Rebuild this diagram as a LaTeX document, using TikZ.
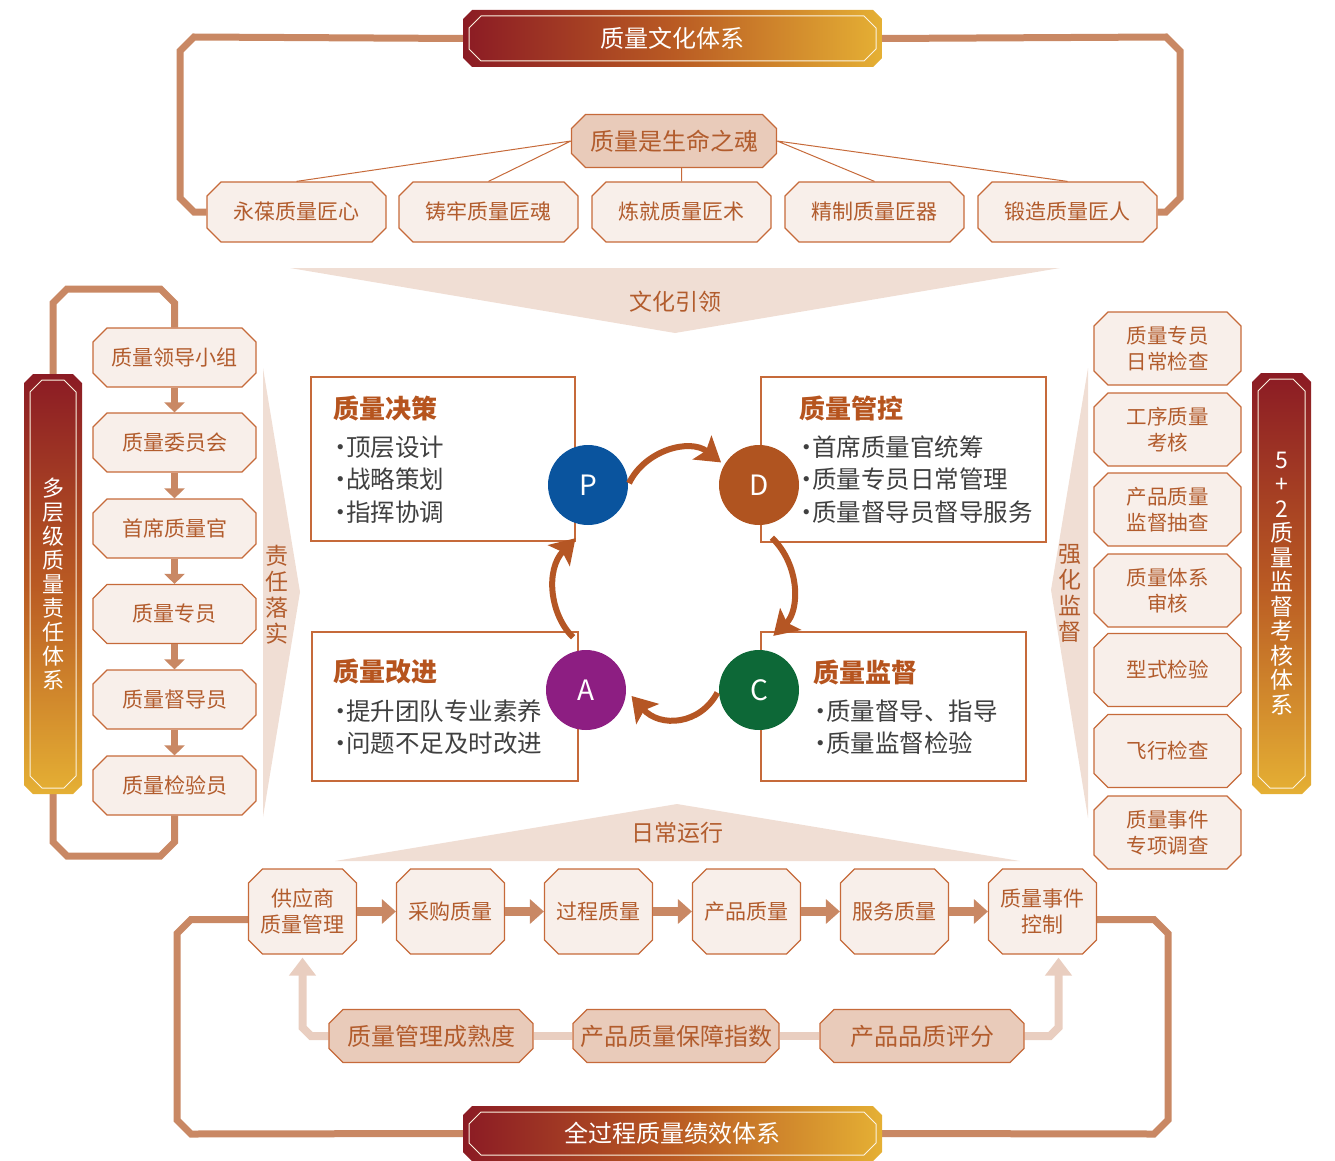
\documentclass[tikz,border=0pt]{standalone}
\usepackage{fontspec}
\setmainfont{Noto Sans CJK SC}
\usetikzlibrary{shapes.misc,arrows.meta,positioning,backgrounds}
\definecolor{loopc}{RGB}{201,136,100}
\definecolor{edgec}{RGB}{198,106,58}
\definecolor{boxc}{RGB}{248,239,234}
\definecolor{deepc}{RGB}{233,203,186}
\definecolor{wedgec}{RGB}{240,222,212}
\definecolor{palec}{RGB}{233,206,192}
\definecolor{txtc}{RGB}{178,92,45}
\definecolor{headc}{RGB}{182,84,30}
\definecolor{grayc}{RGB}{64,64,64}
\definecolor{redc}{RGB}{139,27,36}
\definecolor{midc}{RGB}{185,90,35}
\definecolor{goldc}{RGB}{229,176,52}
\definecolor{pc}{RGB}{10,84,158}
\definecolor{dc}{RGB}{176,84,32}
\definecolor{ac}{RGB}{141,30,130}
\definecolor{cc}{RGB}{13,104,55}
\definecolor{swc}{RGB}{181,86,36}
\newcommand{\fs}[2]{\fontsize{#1}{#2}\selectfont}
\newcommand{\bul}{\makebox[0.45em][c]{·}}
\newcommand{\cutrect}[5]{(#1+#5,#2) -- (#3-#5,#2) -- (#3,#2+#5) -- (#3,#4-#5) -- (#3-#5,#4) -- (#1+#5,#4) -- (#1,#4-#5) -- (#1,#2+#5) -- cycle}
\begin{document}
\begin{tikzpicture}
[x=1pt, y=-1pt,
 box/.style={chamfered rectangle, chamfered rectangle xsep=7pt, chamfered rectangle ysep=7pt,
   draw=edgec, line width=1.2pt, fill=boxc, inner sep=0pt, align=center, text=txtc, font=\fs{21}{26}},
 deepbox/.style={box, fill=deepc, font=\fs{24}{28}},
 card/.style={chamfered rectangle, chamfered rectangle xsep=6pt, chamfered rectangle ysep=6pt,
   draw=edgec, line width=1.2pt, fill=white, inner sep=0pt},
 hshade/.style={left color=redc, right color=goldc, middle color=midc},
 vshade/.style={top color=redc, bottom color=goldc, middle color=midc},
 slot/.style={rectangle, inner sep=0pt},
 rim/.style={chamfered rectangle, chamfered rectangle xsep=6pt, chamfered rectangle ysep=6pt,
   draw=white!85!goldc, line width=1pt, inner sep=0pt, text=white, align=center},
 loopline/.style={draw=loopc, line width=7pt},
 drop/.style={draw=loopc, line width=7pt, -{Triangle[width=20pt,length=10pt]}},
 push/.style={draw=loopc, line width=9pt, -{Triangle[width=24pt,length=14pt]}},
 paleline/.style={draw=palec, line width=8pt},
 paleup/.style={paleline, -{Triangle[width=26pt,length=18pt]}, shorten >=3pt},
 word/.style={text=txtc, inner sep=0pt, align=center},
 head/.style={text=headc, inner sep=0pt, font=\fs{26}{26}\bfseries},
 items/.style={text=grayc, inner sep=0pt, align=left, font=\fs{24.5}{32.5}},
 phase/.style={circle, minimum size=80pt, inner sep=0pt, text=white, font=\fs{28}{28}},
 swoosh/.style={draw=swc, line width=6pt, -{Stealth[width=30pt,length=24pt,inset=5pt]}}]
\useasboundingbox (0,0) rectangle (1335,1161);

\shade[hshade] \cutrect{463}{10}{882}{67}{9};
\node[slot, minimum width=419pt, minimum height=57pt] (culture) at (672.5,38.5) {};
\node[rim, minimum width=407pt, minimum height=45pt, font=\fs{24}{24}] (culturetxt) at (culture) {质量文化体系};
\node[deepbox, minimum width=205pt, minimum height=53pt] (soul) at (674,141) {质量是生命之魂};
\node[box, minimum width=179pt, minimum height=60pt] (craft1) at (296.5,212) {永葆质量匠心};
\node[box, minimum width=179pt, minimum height=60pt] (craft2) at (488.5,212) {铸牢质量匠魂};
\node[box, minimum width=179pt, minimum height=60pt] (craft3) at (681.5,212) {炼就质量匠术};
\node[box, minimum width=179pt, minimum height=60pt] (craft4) at (874.5,212) {精制质量匠器};
\node[box, minimum width=179pt, minimum height=60pt] (craft5) at (1067.5,212) {锻造质量匠人};
\draw[edgec, line width=1pt] (soul.west) -- (craft1.north) (soul.west) -- (craft2.north)
  (craft3.north) -- (craft3.north |- soul.south) (soul.east) -- (craft4.north) (soul.east) -- (craft5.north);

\fill[wedgec] (290,268) -- (1060,268) -- (675,333) -- cycle;
\node[word, font=\fs{23}{23}] (lead) at (675,302) {文化引领};

\shade[vshade] \cutrect{24}{374}{82}{794}{9};
\node[slot, minimum width=58pt, minimum height=420pt] (duty) at (53,584) {};
\node[rim, minimum width=46pt, minimum height=408pt, font=\fs{22}{24}] (dutytxt) at (duty) {多\\层\\级\\质\\量\\责\\任\\体\\系};
\node[box, minimum width=163pt, minimum height=59pt] (rank1) at (174.5,357.5) {质量领导小组};
\node[box, minimum width=163pt, minimum height=59pt] (rank2) at (174.5,442.5) {质量委员会};
\node[box, minimum width=163pt, minimum height=59pt] (rank3) at (174.5,528.5) {首席质量官};
\node[box, minimum width=163pt, minimum height=59pt] (rank4) at (174.5,614) {质量专员};
\node[box, minimum width=163pt, minimum height=59pt] (rank5) at (174.5,699.5) {质量督导员};
\node[box, minimum width=163pt, minimum height=59pt] (rank6) at (174.5,785.5) {质量检验员};
\draw[drop] (rank1.south) -- (rank2.north);
\draw[drop] (rank2.south) -- (rank3.north);
\draw[drop] (rank3.south) -- (rank4.north);
\draw[drop] (rank4.south) -- (rank5.north);
\draw[drop] (rank5.south) -- (rank6.north);
\fill[wedgec] (263,368) -- (300,592) -- (263,817) -- cycle;
\node[word, font=\fs{23}{26}] (dutyword) at (277,595) {责\\任\\落\\实};

\shade[vshade] \cutrect{1252}{373}{1311}{794}{9};
\node[slot, minimum width=59pt, minimum height=421pt] (audit) at (1281.5,583.5) {};
\node[rim, minimum width=47pt, minimum height=409pt, font=\fs{23}{24.5}] (audittxt) at (audit) {5\\+\\2\\质\\量\\监\\督\\考\\核\\体\\系};
\node[box, minimum width=147pt, minimum height=73pt, font=\fs{20.5}{26}] (check1) at (1167.5,348.5) {质量专员\\日常检查};
\node[box, minimum width=147pt, minimum height=73pt, font=\fs{20.5}{26}] (check2) at (1167.5,429.5) {工序质量\\考核};
\node[box, minimum width=147pt, minimum height=73pt, font=\fs{20.5}{26}] (check3) at (1167.5,509.5) {产品质量\\监督抽查};
\node[box, minimum width=147pt, minimum height=73pt, font=\fs{20.5}{26}] (check4) at (1167.5,590.5) {质量体系\\审核};
\node[box, minimum width=147pt, minimum height=73pt, font=\fs{20.5}{26}] (check5) at (1167.5,670) {型式检验};
\node[box, minimum width=147pt, minimum height=73pt, font=\fs{20.5}{26}] (check6) at (1167.5,751) {飞行检查};
\node[box, minimum width=147pt, minimum height=73pt, font=\fs{20.5}{26}] (check7) at (1167.5,832.5) {质量事件\\专项调查};
\fill[wedgec] (1088,368) -- (1051,590) -- (1088,818) -- cycle;
\node[word, font=\fs{23}{26}] (auditword) at (1070,593) {强\\化\\监\\督};

\node[card, minimum width=264pt, minimum height=164pt] (decide) at (443,459) {};
\node[card, minimum width=285pt, minimum height=165pt] (control) at (903.5,459.5) {};
\node[card, minimum width=266pt, minimum height=149pt] (improve) at (445,706.5) {};
\node[card, minimum width=265pt, minimum height=149pt] (supervise) at (893.5,706.5) {};
\node[head, anchor=west] (decidehead) at (333,408) {质量决策};
\node[items, anchor=west] (decideitems) at (335,479.5) {\bul 顶层设计\\\bul 战略策划\\\bul 指挥协调};
\node[head, anchor=west] (controlhead) at (799,408) {质量管控};
\node[items, anchor=west] (controlitems) at (801,479.5) {\bul 首席质量官统筹\\\bul 质量专员日常管理\\\bul 质量督导员督导服务};
\node[head, anchor=west] (improvehead) at (333,672) {质量改进};
\node[items, anchor=west] (improveitems) at (335,727) {\bul 提升团队专业素养\\\bul 问题不足及时改进};
\node[head, anchor=west] (supervisehead) at (813,672) {质量监督};
\node[items, anchor=west] (superviseitems) at (815,727) {\bul 质量督导、指导\\\bul 质量监督检验};
\node[phase, fill=pc] (P) at (588,485) {P};
\node[phase, fill=dc] (D) at (759,485) {D};
\node[phase, fill=ac] (A) at (586,690) {A};
\node[phase, fill=cc] (C) at (759,690) {C};
\draw[swoosh, shorten <=2pt, shorten >=4pt] (P.east) .. controls (645,450) and (690,438) .. (D.150);
\draw[swoosh, shorten <=18pt, shorten >=20pt] (D.south) .. controls (800,565) and (800,610) .. (C.north);
\draw[swoosh, shorten <=3pt, shorten >=8pt] (C.west) .. controls (700,725) and (660,728) .. (A.east);
\draw[swoosh, shorten <=18pt, shorten >=18pt] (A.north) .. controls (550,615) and (545,570) .. (P.south);

\fill[wedgec] (677,804) -- (1020,861) -- (335,861) -- cycle;
\node[word, font=\fs{23}{23}] (daily) at (677,833) {日常运行};
\node[box, minimum width=108pt, minimum height=85pt] (stage1) at (302.5,911.5) {供应商\\质量管理};
\node[box, minimum width=108pt, minimum height=85pt] (stage2) at (450.5,911.5) {采购质量};
\node[box, minimum width=108pt, minimum height=85pt] (stage3) at (598.5,911.5) {过程质量};
\node[box, minimum width=108pt, minimum height=85pt] (stage4) at (746.5,911.5) {产品质量};
\node[box, minimum width=108pt, minimum height=85pt] (stage5) at (894.5,911.5) {服务质量};
\node[box, minimum width=108pt, minimum height=85pt] (stage6) at (1042.5,911.5) {质量事件\\控制};
\draw[push] (stage1.east) -- (stage2.west);
\draw[push] (stage2.east) -- (stage3.west);
\draw[push] (stage3.east) -- (stage4.west);
\draw[push] (stage4.east) -- (stage5.west);
\draw[push] (stage5.east) -- (stage6.west);
\node[deepbox, minimum width=204pt, minimum height=53pt] (index1) at (431,1036) {质量管理成熟度};
\node[deepbox, minimum width=205pt, minimum height=53pt] (index2) at (676,1036) {产品质量保障指数};
\node[deepbox, minimum width=204pt, minimum height=53pt] (index3) at (922,1036) {产品品质评分};
\shade[hshade] \cutrect{463}{1106}{882}{1161}{9};
\node[slot, minimum width=419pt, minimum height=55pt] (perf) at (672.5,1133.5) {};
\node[rim, minimum width=407pt, minimum height=43pt, font=\fs{24}{24}] (perftxt) at (perf) {全过程质量绩效体系};

\begin{scope}[on background layer]
\draw[loopline] (culture.west) -- (194,37) -- (180,51) -- (180,198) -- (194,212) -- (craft1.west);
\draw[loopline] (culture.east) -- (1166,37) -- (1180,51) -- (1180,198) -- (1166,212) -- (craft5.east);
\draw[loopline] (rank1.north) -- (174.5,303) -- (160.5,289) -- (67,289) -- (53,303) -- (53,842) -- (67,856) -- (160.5,856) -- (174.5,842) -- (rank6.south);
\draw[loopline] ([yshift=-8pt]stage1.west) -- (191,919.5) -- (177,933.5) -- (177,1120) -- (191,1134) -- (perf.west);
\draw[loopline] ([yshift=-8pt]stage6.east) -- (1154,919.5) -- (1168,933.5) -- (1168,1120) -- (1154,1134) -- (perf.east);
\draw[paleup] (index1.west) -- (311,1036) -- (302.5,1027.5) -- (stage1.south);
\draw[paleline] (index1.east) -- (index2.west) (index2.east) -- (index3.west);
\draw[paleup] (index3.east) -- (1050,1036) -- (1058.5,1027.5) -- ([xshift=16pt]stage6.south);
\end{scope}
\end{tikzpicture}
\end{document}
